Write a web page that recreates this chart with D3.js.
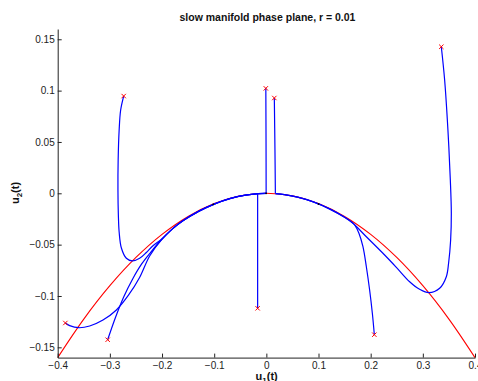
<!DOCTYPE html>
<html><head><meta charset="utf-8">
<script src="https://cdn.jsdelivr.net/npm/d3@7"></script>
<style>
body{margin:0;background:#fff;}
svg{display:block;font-family:"Liberation Sans",Arial,Helvetica,sans-serif;}
</style></head>
<body><svg id="c" width="478" height="381"></svg>
<script>
// ---- data (u1, u2) ----
const xTicks = [-0.4,-0.3,-0.2,-0.1,0,0.1,0.2,0.3,0.4];
const yTicks = [-0.15,-0.1,-0.05,0,0.05,0.1,0.15];

// slow manifold (red)
const manifoldU1 = [-0.4,-0.35,-0.3,-0.25,-0.2,-0.15,-0.1,-0.05,0,0.05,0.1,0.15,0.2,0.25,0.3,0.35,0.4];
const manifoldU2 = [-0.16,-0.1225,-0.09,-0.0625,-0.04,-0.0225,-0.01,-0.0025,0,-0.0025,-0.01,-0.0225,-0.04,-0.0625,-0.09,-0.1225,-0.16];

// shared tails along the manifold
const leftTail = [[-0.20,-0.0445],[-0.18,-0.0346],[-0.16,-0.0268],[-0.13,-0.0176],[-0.10,-0.0105],[-0.07,-0.0052],[-0.04,-0.0018],[-0.015,-0.0003],[0.0,0.0]];
const rightTail = [[0.15,-0.0233],[0.12,-0.0149],[0.09,-0.0084],[0.06,-0.0038],[0.035,-0.0013],[0.0175,-0.0003]];

const trajA = [[-0.3853,-0.1263],[-0.3770,-0.1289],[-0.3592,-0.1309],[-0.3387,-0.1292],[-0.3132,-0.1234],[-0.2875,-0.1136],[-0.2640,-0.0990],[-0.2430,-0.0820],[-0.2237,-0.0610]];
const trajB = [[-0.3042,-0.1426],[-0.2889,-0.1204],[-0.2735,-0.1009],[-0.2563,-0.0834],[-0.2390,-0.0688],[-0.2218,-0.0575]];
const trajC = [[-0.2735,0.0947],[-0.2793,0.0811],[-0.2822,0.0616],[-0.2841,0.0324],[-0.2845,0.0032],[-0.2837,-0.0211],[-0.2822,-0.0377],[-0.2779,-0.0533],[-0.2684,-0.0633],[-0.2569,-0.0659],[-0.2429,-0.0633],[-0.2300,-0.0576],[-0.2179,-0.0513]];
const trajD = [[-0.0010,0.1022],[-0.0006,0.0500],[-0.0004,0.0]];
const trajE = [[0.0153,0.0928],[0.0165,0.0422],[0.0173,0.0]];
const trajF = [[-0.0167,-0.1120],[-0.0167,-0.0500],[-0.0167,-0.0007]];
const trajG = [[0.2070,-0.1377],[0.2032,-0.1168],[0.1980,-0.0942],[0.1917,-0.0715],[0.1852,-0.0520],[0.1775,-0.0389],[0.1693,-0.0307],[0.1629,-0.0277]];
const trajH = [[0.3354,0.1427],[0.3418,0.1103],[0.3481,0.0616],[0.3527,0.0130],[0.3546,-0.0195],[0.3533,-0.0454],[0.3494,-0.0679],[0.3450,-0.0812],[0.3322,-0.0925],[0.3117,-0.0968],[0.2938,-0.0935],[0.2747,-0.0861],[0.2492,-0.0721],[0.2235,-0.0584],[0.1917,-0.0423],[0.1660,-0.0292]];

const startPoints = [trajA[0],trajB[0],trajC[0],trajD[0],trajE[0],trajF[0],trajG[0],trajH[0]];
const dots = [[-0.102,-0.0107],[0.100,-0.0104],[-0.0004,0.0]];

const titleText = "slow manifold phase plane, r = 0.01";

// ---- drawing ----
const svg = d3.select("#c");
const x = d3.scaleLinear().domain([-0.4,0.4]).range([57.7,475]);
const y = d3.scaleLinear().domain([-0.16,0.16]).range([357.6,29]);

const fmt = d => d === 0 ? "0" : String(+d.toFixed(2)).replace("-","\u2212");

const line = d3.line().x(d=>x(d[0])).y(d=>y(d[1])).curve(d3.curveCatmullRom.alpha(0.5));

// manifold
svg.append("path")
  .datum(manifoldU1.map((u,i)=>[u,manifoldU2[i]]))
  .attr("d", line).attr("fill","none").attr("stroke","#ff0000").attr("stroke-width",1.1);

const trajs = [trajA.concat(leftTail), trajB.concat(leftTail), trajC.concat(leftTail), trajD, trajE, trajF,
               trajG.concat(rightTail), trajH.concat(rightTail)];
svg.append("g").selectAll("path").data(trajs).join("path")
  .attr("d", line).attr("fill","none").attr("stroke","#0000ff").attr("stroke-width",1.2);

svg.append("g").selectAll("circle").data(dots).join("circle")
  .attr("cx",d=>x(d[0])).attr("cy",d=>y(d[1])).attr("r",0.9).attr("fill","#000");

svg.append("g").selectAll("path").data(startPoints).join("path")
  .attr("transform",d=>`translate(${x(d[0])},${y(d[1])})`)
  .attr("d","M-2.2,-2.2L2.2,2.2M-2.2,2.2L2.2,-2.2")
  .attr("stroke","#ff0000").attr("stroke-width",1).attr("fill","none");

// axes
const gx = svg.append("g").attr("transform",`translate(0,${y(-0.16)})`)
  .call(d3.axisBottom(x).tickValues(xTicks).tickFormat(fmt).tickSizeInner(-4).tickSizeOuter(0).tickPadding(4));
const gy = svg.append("g").attr("transform",`translate(${x(-0.4)},0)`)
  .call(d3.axisLeft(y).tickValues(yTicks).tickFormat(fmt).tickSizeInner(-4).tickSizeOuter(0).tickPadding(3));
[gx,gy].forEach(g=>{
  g.selectAll("path,line").attr("stroke","#222").attr("stroke-width",1);
  g.selectAll("text").attr("font-size",10).attr("fill","#222")
   .attr("font-family","'Liberation Sans',Arial,Helvetica,sans-serif");
});

// title
svg.append("text").attr("x",267.5).attr("y",21).attr("text-anchor","middle")
  .attr("font-size",10.5).attr("font-weight","bold").attr("fill","#111").text(titleText);

// x label
const xl = svg.append("text").attr("x",266.7).attr("y",380).attr("text-anchor","middle")
  .attr("font-size",11).attr("font-weight","bold").attr("fill","#111");
xl.append("tspan").text("u");
xl.append("tspan").attr("dy",3).attr("font-size",8).text("1");
xl.append("tspan").attr("dy",-3).text("(t)");

// y label
const yl = svg.append("text").attr("transform","translate(19,193) rotate(-90)").attr("text-anchor","middle")
  .attr("font-size",11).attr("font-weight","bold").attr("fill","#111");
yl.append("tspan").text("u");
yl.append("tspan").attr("dy",3).attr("font-size",8).text("2");
yl.append("tspan").attr("dy",-3).text("(t)");
</script></body></html>
